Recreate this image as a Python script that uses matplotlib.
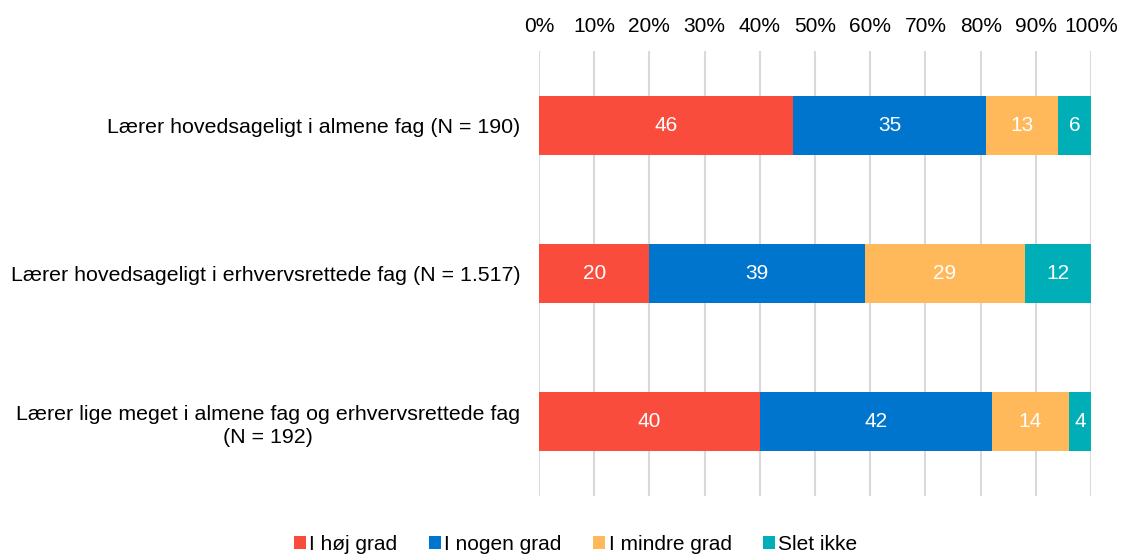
import numpy as np
import matplotlib.pyplot as plt

plt.rcParams['font.family'] = ['Liberation Sans', 'DejaVu Sans']

categories = [
    "Lærer hovedsageligt i almene fag (N = 190)",
    "Lærer hovedsageligt i erhvervsrettede fag (N = 1.517)",
    "Lærer lige meget i almene fag og erhvervsrettede fag\n(N = 192)",
]
series = ["I høj grad", "I nogen grad", "I mindre grad", "Slet ikke"]
values = np.array([
    [46, 35, 13, 6],
    [20, 39, 29, 12],
    [40, 42, 14, 4],
])
colors = ["#F94C3C", "#0075CD", "#FFB85A", "#00AEB8"]
ticks = list(range(0, 101, 10))

fs = 15
fig = plt.figure(figsize=(11.22, 5.56), dpi=100)
ax = fig.add_axes([0.4804, 0.108, 0.9724 - 0.4804, 0.908 - 0.108])

y = np.arange(len(categories))
left = np.zeros(len(categories))
for i, name in enumerate(series):
    bars = ax.barh(y, values[:, i], left=left, height=0.4, color=colors[i],
                   label=name, zorder=3)
    for b, v in zip(bars, values[:, i]):
        ax.text(b.get_x() + b.get_width() / 2, b.get_y() + b.get_height() / 2,
                str(v), ha='center', va='center', color='white', fontsize=fs,
                zorder=4)
    left += values[:, i]

ax.set_xlim(0, 100)
ax.set_ylim(2.5, -0.5)
ax.set_xticks(ticks)
ax.set_xticklabels([f"{t}%" for t in ticks], fontsize=fs)
ax.xaxis.tick_top()
ax.tick_params(axis='x', length=0, pad=11)
ax.set_yticks(y)
ax.set_yticklabels(categories, fontsize=15.4, multialignment='center',
                   linespacing=1.3)
ax.tick_params(axis='y', length=0, pad=13.5)
ax.grid(axis='x', color='#D9D9D9', linewidth=1.5, zorder=0)
for s in ax.spines.values():
    s.set_visible(False)

fig.legend(loc='lower center', bbox_to_anchor=(0.513, -0.03), ncol=4,
           frameon=False, fontsize=fs, handlelength=0.6, handleheight=0.6,
           handletextpad=0.15, columnspacing=1.5)

fig.savefig("out.png", dpi=100)
